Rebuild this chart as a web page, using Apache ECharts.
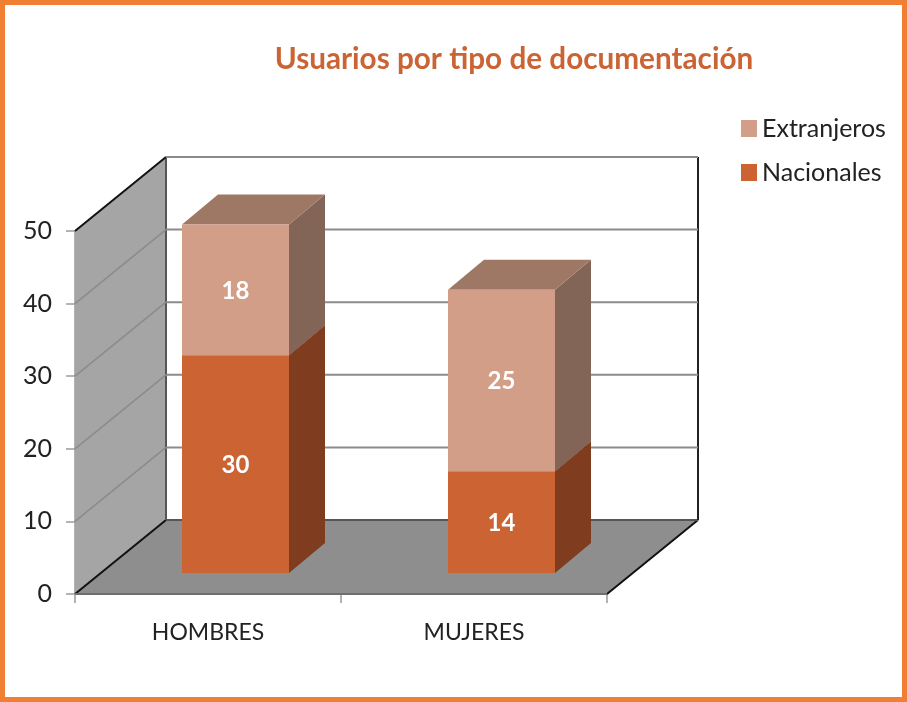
<!DOCTYPE html>
<html>
<head>
<meta charset="utf-8">
<style>html,body{margin:0;padding:0;background:#fff}#c{width:907px;height:702px}</style>
<script src="https://cdn.jsdelivr.net/npm/echarts@6/dist/echarts.min.js"></script>
</head>
<body>
<div id="c"></div>
<script>
const categories = ['HOMBRES', 'MUJERES'];
const nacionales = [30, 14];
const extranjeros = [18, 25];
const yTicks = [0, 10, 20, 30, 40, 50];

const FONT = 'Lato, "Open Sans", sans-serif';
const WALL = [91, -74];      // depth of the chart box
const BAR_SHIFT = [27.5, -21]; // where the bars stand on the floor
const BAR_DEPTH = [36, -30];
const BAR_W = 107;

function wallItem(params, api) {
  const r = params.coordSys, v = api.value(1), y = api.coord([0, v])[1];
  const xl = r.x, xr = r.x + r.width, dx = WALL[0], dy = WALL[1];
  const yTop = api.coord([0, 50])[1], yBot = api.coord([0, 0])[1];
  const kids = [];
  const poly = (points, fill) => ({type:'polygon', shape:{points}, style:{fill}});
  const line = (x1,y1,x2,y2,stroke,w) => ({type:'line', shape:{x1,y1,x2,y2}, style:{stroke, lineWidth:w}});
  if (params.dataIndex === 0) {
    kids.push(poly([[xl,yBot],[xl,yTop],[xl+dx,yTop+dy],[xl+dx,yBot+dy]], '#a5a5a5'));
    kids.push(poly([[xl,yBot],[xr,yBot],[xr+dx,yBot+dy],[xl+dx,yBot+dy]], '#8e8e8e'));
    kids.push(line(xl,yBot,xl+dx,yBot+dy,'#111',2));
    kids.push(line(xr,yBot,xr+dx,yBot+dy,'#111',2));
    kids.push(line(xl,yBot,xr,yBot,'#6f6f6f',2));
    kids.push(line(xl+dx,yBot+dy,xr+dx,yBot+dy,'#555',2));
    kids.push(line(xl+dx,yTop+dy,xl+dx,yBot+dy,'#555',2));
    kids.push(line(xr+dx,yTop+dy,xr+dx,yBot+dy,'#222',2));
  } else if (v === 50) {
    kids.push(line(xl,y,xl+dx,y+dy,'#111',2));
    kids.push(line(xl+dx,y+dy,xr+dx,y+dy,'#8a8a8a',2));
  } else {
    kids.push(line(xl,y,xl+dx,y+dy,'#8b8b8b',1.5));
    kids.push(line(xl+dx,y+dy,xr+dx,y+dy,'#8b8b8b',2));
  }
  return {type:'group', children:kids};
}

function barRenderer(sideColor, topColor) {
  return function (params, api) {
    const c = api.value(0), start = api.value(1), end = api.value(2);
    const p0 = api.coord([c, start]), p1 = api.coord([c, end]);
    const xa = p0[0] + BAR_SHIFT[0] - BAR_W / 2, xb = xa + BAR_W;
    const y0 = p0[1] + BAR_SHIFT[1], y1 = p1[1] + BAR_SHIFT[1];
    const dx = BAR_DEPTH[0], dy = BAR_DEPTH[1];
    return {type:'group', children:[
      {type:'polygon', shape:{points:[[xb,y0],[xb+dx,y0+dy],[xb+dx,y1+dy],[xb,y1]]}, style:{fill:sideColor}},
      {type:'polygon', shape:{points:[[xa,y1],[xb,y1],[xb+dx,y1+dy],[xa+dx,y1+dy]]}, style:{fill:topColor}},
      {type:'rect', shape:{x:xa, y:y1, width:BAR_W, height:y0-y1}, style:{fill:api.visual('color')}},
      {type:'text', z2:10, style:{text:String(end-start), x:(xa+xb)/2, y:(y0+y1)/2+1,
        fill:'#fff', font:'bold 24px ' + FONT, align:'center', verticalAlign:'middle'}}
    ]};
  };
}

const nacData = categories.map((_, i) => [i, 0, nacionales[i]]);
const extData = categories.map((_, i) => [i, nacionales[i], nacionales[i] + extranjeros[i]]);

const chart = echarts.init(document.getElementById('c'), null, {renderer:'canvas'});
chart.setOption({
  animation:false,
  backgroundColor:'#fff',
  title:{text:'Usuarios por tipo de documentación', left:509, top:39, textAlign:'center',
    textStyle:{fontFamily:FONT, fontWeight:'bold', fontSize:29.7, color:'#CB6434'}},
  legend:{data:['Extranjeros','Nacionales'], orient:'vertical', left:736, top:111, icon:'rect',
    itemWidth:16, itemHeight:17, itemGap:19, textStyle:{fontFamily:FONT, fontSize:25, color:'#222'}},
  grid:{left:75, right:300, top:231, bottom:108, containLabel:false},
  xAxis:{type:'category', data:categories, boundaryGap:true,
    axisLine:{lineStyle:{color:'#7f7f7f', width:1.5}},
    axisTick:{show:true, length:9, alignWithLabel:false, lineStyle:{color:'#9a9a9a', width:1.5}},
    axisLabel:{margin:27, fontFamily:FONT, fontSize:23, color:'#222'},
    splitLine:{show:false}},
  yAxis:{type:'value', min:0, max:50, interval:10,
    axisLine:{show:true, lineStyle:{color:'#999', width:1.5}},
    axisTick:{show:true, length:9, lineStyle:{color:'#9a9a9a', width:1.5}},
    axisLabel:{margin:23, fontFamily:FONT, fontSize:25, color:'#222', padding:[6,0,0,0]},
    splitLine:{show:false}},
  graphic:[{type:'rect', z:100, silent:true, shape:{x:2.5,y:2.5,width:902,height:697},
    style:{fill:'none', stroke:'#F07F33', lineWidth:5}}],
  series:[
    {type:'custom', name:'walls', silent:true, clip:false, z:1, renderItem:wallItem,
      data:yTicks.map(v => [0, v]), encode:{x:0, y:1}},
    {type:'custom', name:'Nacionales', clip:false, z:3, itemStyle:{color:'#CB6332'},
      renderItem:barRenderer('#7F3C1F','#7F3C1F'), data:nacData, encode:{x:0, y:[1,2]}},
    {type:'custom', name:'Extranjeros', clip:false, z:4, itemStyle:{color:'#D39E87'},
      renderItem:barRenderer('#836557','#9E7865'), data:extData, encode:{x:0, y:[1,2]}}
  ]
});
</script>
</body>
</html>
